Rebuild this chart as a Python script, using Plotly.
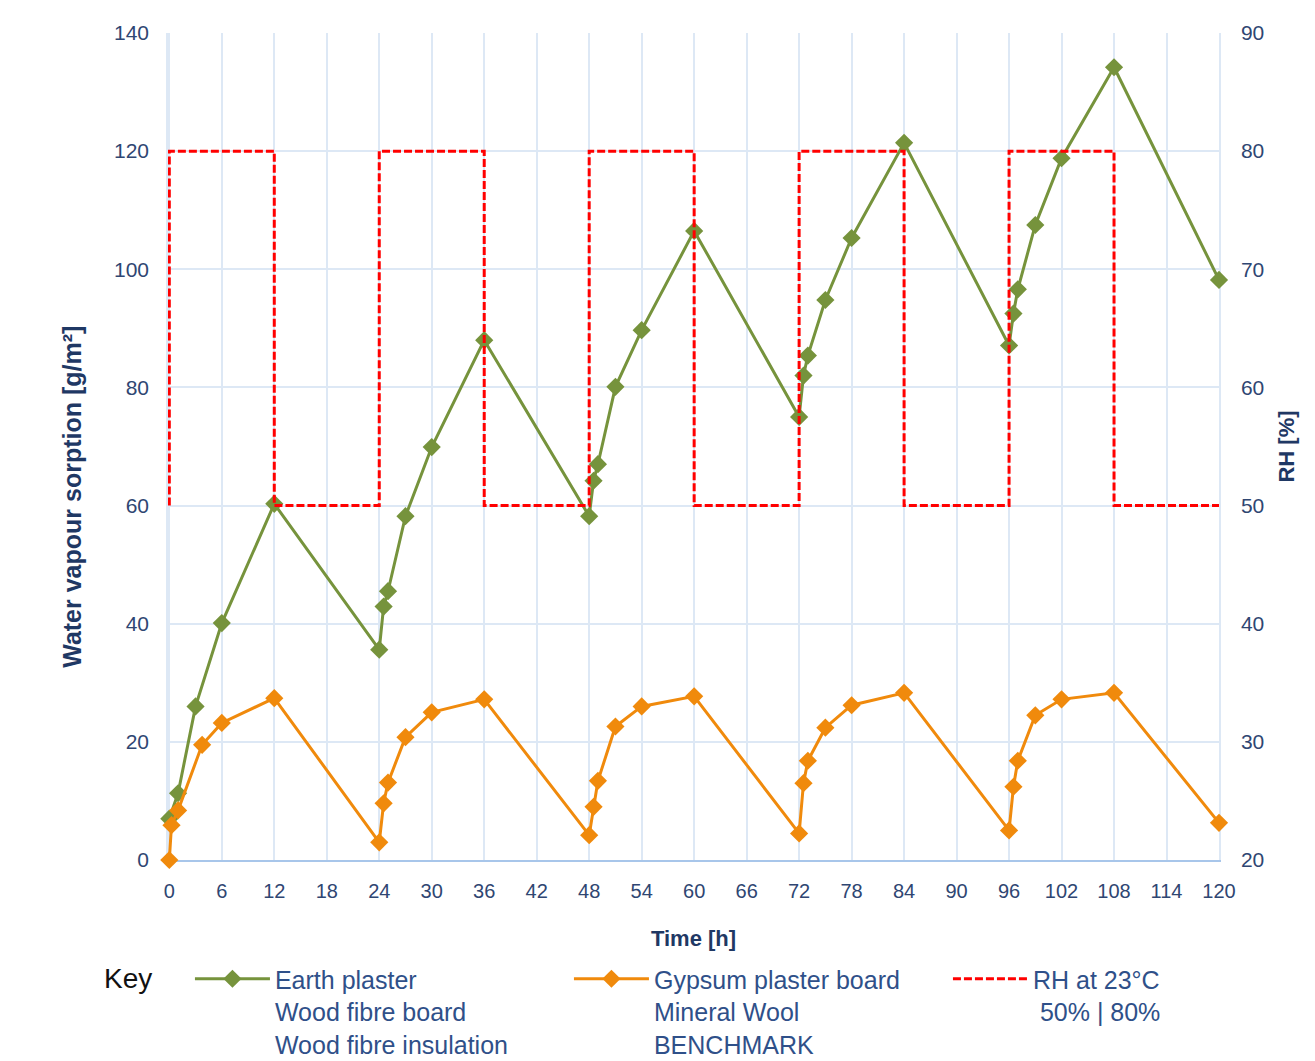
import plotly.graph_objects as go

# ---- data ----
earth_time = [0, 1, 3, 6, 12, 24, 24.5, 25, 27, 30, 36, 48, 48.5, 49, 51, 54, 60,
              72, 72.5, 73, 75, 78, 84, 96, 96.5, 97, 99, 102, 108, 120]
earth_vals = [7.0, 11.3, 26.0, 40.1, 60.3, 35.6, 42.9, 45.5, 58.2, 69.9, 88.0,
              58.2, 64.2, 67.0, 80.1, 89.7, 106.5, 75.0, 82.0, 85.4, 94.8, 105.3,
              121.4, 87.1, 92.5, 96.6, 107.5, 118.8, 134.2, 98.2]

gyps_time = [0, 0.25, 1, 3.75, 6, 12, 24, 24.5, 25, 27, 30, 36, 48, 48.5, 49, 51,
             54, 60, 72, 72.5, 73, 75, 78, 84, 96, 96.5, 97, 99, 102, 108, 120]
gyps_vals = [0, 5.9, 8.4, 19.5, 23.2, 27.4, 3.0, 9.6, 13.1, 20.8, 25.0, 27.2,
             4.2, 9.0, 13.4, 22.6, 26.0, 27.7, 4.5, 13.0, 16.8, 22.4, 26.2, 28.3,
             5.0, 12.4, 16.8, 24.5, 27.2, 28.3, 6.3]

rh_time = [0, 0, 12, 12, 24, 24, 36, 36, 48, 48, 60, 60, 72, 72, 84, 84, 96, 96,
           108, 108, 120]
rh_vals = [50, 80, 80, 50, 50, 80, 80, 50, 50, 80, 80, 50, 50, 80, 80, 50, 50, 80,
           80, 50, 50]

x_ticks = list(range(0, 121, 6))

series_names = [
    "Earth plaster<br>Wood fibre board<br>Wood fibre insulation",
    "Gypsum plaster board<br>Mineral Wool<br>BENCHMARK",
    "RH at 23°C<br> 50% | 80%",
]

GREEN = "#76933C"
ORANGE = "#F08A0C"
RED = "#FF0000"
TICK = "#2F4672"
TITLE = "#1F3864"
LEG = "#2F5089"
GRID = "#DDE8F5"
FONT = "Liberation Sans, Arial, sans-serif"

fig = go.Figure()
fig.add_trace(go.Scatter(
    x=earth_time, y=earth_vals, name=series_names[0], mode="lines+markers",
    line=dict(color=GREEN, width=3), marker=dict(symbol="diamond", size=14, color=GREEN),
    cliponaxis=False))
fig.add_trace(go.Scatter(
    x=gyps_time, y=gyps_vals, name=series_names[1], mode="lines+markers",
    line=dict(color=ORANGE, width=3), marker=dict(symbol="diamond", size=14, color=ORANGE),
    cliponaxis=False))
fig.add_trace(go.Scatter(
    x=rh_time, y=rh_vals, name=series_names[2], mode="lines", yaxis="y2",
    line=dict(color=RED, width=3, dash="8px,3px"), cliponaxis=False))

fig.update_layout(
    width=1307, height=1053,
    margin=dict(l=160, r=96, t=25, b=201, autoexpand=False),
    paper_bgcolor="white", plot_bgcolor="white",
    font=dict(family=FONT, color=TICK),
    showlegend=True,
    legend=dict(orientation="h", x=-0.001, xanchor="left", y=-0.1161, yanchor="top",
                font=dict(size=25, color=LEG, family=FONT), valign="top",
                itemwidth=75, indentation=23, entrywidth=266, entrywidthmode="pixels",
                bgcolor="rgba(0,0,0,0)", tracegroupgap=0),
    xaxis=dict(range=[-0.15, 120], tickvals=x_ticks, showgrid=True, gridcolor=GRID,
               gridwidth=1.5, zeroline=False, showline=True, linecolor="#A8C6EA",
               linewidth=1.5, tickfont=dict(size=20, color=TICK), ticks="",
               ticklabelstandoff=12, layer="below traces",
               title=dict(text="<b>Time [h]</b>", font=dict(size=22, color=TITLE),
                          standoff=30)),
    yaxis=dict(range=[0, 140], dtick=20, showgrid=True, gridcolor=GRID, gridwidth=1.5,
               zeroline=False, showline=True, linecolor=GRID, linewidth=1.5,
               tickfont=dict(size=21, color=TICK), ticks="", ticklabelstandoff=13,
               layer="below traces"),
    yaxis2=dict(range=[20, 90], dtick=10, overlaying="y", side="right",
                showgrid=False, zeroline=False, showline=True, linecolor=GRID,
                linewidth=1.5, tickfont=dict(size=21, color=TICK), ticks="",
                ticklabelstandoff=16, layer="below traces",
                title=dict(text="<b>RH [%]</b>", font=dict(size=22, color=TITLE),
                           standoff=15)),
    annotations=[
        dict(text="Key", xref="paper", yref="paper", x=-0.0629, y=-0.1427,
             xanchor="left", yanchor="middle", showarrow=False,
             font=dict(size=28, color="#111111", family=FONT)),
        dict(text="<b>Water vapour sorption [g/m²]</b>", xref="paper", yref="paper",
             x=-0.0915, y=0.439, xanchor="center", yanchor="middle", textangle=-90,
             showarrow=False, font=dict(size=25, color=TITLE, family=FONT)),
    ],
)

fig.write_html("out.html")
